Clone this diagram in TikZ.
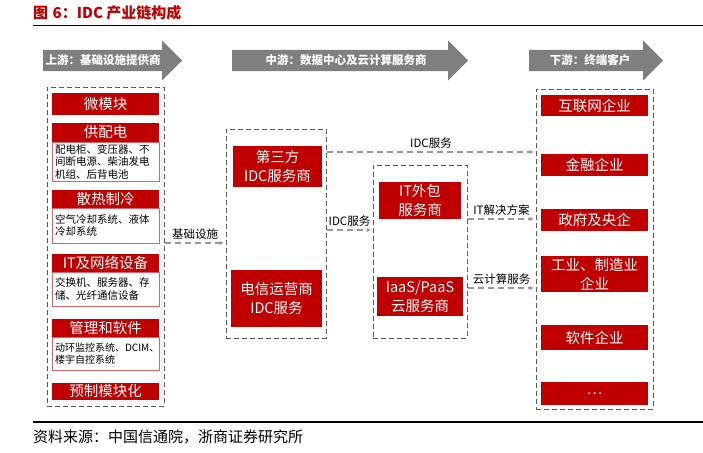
\documentclass[tikz,border=0pt]{standalone}
\usepackage{fontspec}
\setmainfont{Noto Sans CJK SC}
\usepackage{tikz}
\usetikzlibrary{arrows.meta, positioning, calc}
\definecolor{zsred}{HTML}{C00000}
\definecolor{bargray}{HTML}{7F7F7F}
\definecolor{boxgray}{HTML}{595959}
\definecolor{linegray}{HTML}{9A9A9A}

\begin{document}
\begin{tikzpicture}[x=1pt, y=-1pt,
    redbox/.style={fill=zsred, text=white, inner sep=0pt, align=center, font=\fontsize{14.5}{19}\selectfont},
    detailbox/.style={draw=zsred!60, fill=white, text=black, inner xsep=3pt, inner ysep=0pt, text width=101pt, align=left, font=\fontsize{10.5}{12.5}\selectfont},
    group/.style={draw=boxgray, line width=1pt, dash pattern=on 5pt off 3pt},
    flow/.style={draw=linegray, line width=1.2pt, dash pattern=on 6pt off 4pt, shorten >=2pt, -{Triangle[length=4pt,width=4pt]}},
    flowlabel/.style={font=\fontsize{11.5}{14}\selectfont, text=black, inner sep=3pt},
    stage/.style={font=\bfseries\fontsize{11.5}{14}\selectfont, text=white, inner sep=0pt}
]
\useasboundingbox (0,0) rectangle (703,452);

% title and rules
\node[anchor=west, inner sep=0pt, text=zsred, font=\bfseries\fontsize{15}{18}\selectfont] (title) at (33,13) {图\hspace{0.3em}6：IDC 产业链构成};
\draw[line width=1.2pt] (33,25.5) -- (703,25.5);
\draw[line width=1.2pt] (33,422) -- (703,422);
\node[anchor=west, inner sep=0pt, font=\fontsize{15}{18}\selectfont] (source) at (33,437) {资料来源：中国信通院，浙商证券研究所};

% stage banners
\foreach \xa/\xb/\xt/\name/\txt in {43/162/103/upstream/上游：基础设施提供商,
                                   232/448/346/midstream/中游：数据中心及云计算服务商,
                                   529/643/590/downstream/下游：终端客户} {
    \fill[bargray] (\xa,50) -- (\xb,50) -- (\xb,40.5) -- (\xb+20,60.5) -- (\xb,80.5) -- (\xb,71) -- (\xa,71) -- cycle;
    \node[stage] (\name) at (\xt,60.5) {\txt};
}

% group boxes
\node[group, minimum width=117pt, minimum height=319pt] (upbox) at (105.5,246.5) {};
\node[group, minimum width=100pt, minimum height=209pt] (midbox1) at (276,233.5) {};
\node[group, minimum width=94pt, minimum height=173pt] (midbox2) at (420,251.5) {};
\node[group, minimum width=117pt, minimum height=320pt] (custbox) at (594.5,249) {};

% upstream
\node[redbox, minimum width=107pt, minimum height=22pt] (micro) at (105.5,104) {微模块};
\node[redbox, minimum width=107pt, minimum height=19pt] (power) at (105.5,132.5) {供配电};
\node[detailbox, minimum height=39pt] (powertxt) at (105.5,161.5) {配电柜、变压器、不\\间断电源、柴油发电\\机组、后背电池};
\node[redbox, minimum width=107pt, minimum height=18pt] (cool) at (105.5,199) {散热制冷};
\node[detailbox, minimum height=35pt] (cooltxt) at (105.5,225.5) {空气冷却系统、液体\\冷却系统};
\node[redbox, minimum width=107pt, minimum height=18pt] (itnet) at (105.5,263) {IT及网络设备};
\node[detailbox, minimum height=34pt] (itnettxt) at (105.5,289) {交换机、服务器、存\\储、光纤通信设备};
\node[redbox, minimum width=107pt, minimum height=18pt] (mgmt) at (105.5,328) {管理和软件};
\node[detailbox, minimum height=33pt, font=\fontsize{10}{12.5}\selectfont] (mgmttxt) at (105.5,353.5) {动环监控系统、DCIM、\\楼宇自控系统};
\node[redbox, minimum width=107pt, minimum height=17pt] (prefab) at (105.5,391) {预制模块化};

% midstream
\node[redbox, minimum width=89pt, minimum height=41pt] (thirdidc) at (277.5,166.5) {第三方\\IDC服务商};
\node[redbox, minimum width=91pt, minimum height=57pt] (telecom) at (276.5,298.5) {电信运营商\\IDC服务};
\node[redbox, minimum width=82pt, minimum height=37pt] (itout) at (420,200.5) {IT外包\\服务商};
\node[redbox, minimum width=86pt, minimum height=39pt] (cloud) at (420,296.5) {IaaS/PaaS\\云服务商};

% downstream
\foreach \yc/\h/\name/\txt in {105.5/21/internet/互联网企业, 165/22/finance/金融企业,
                               220/22/gov/政府及央企, 274/36/industry/{工业、制造业\\企业},
                               337.5/25/software/软件企业, 393.5/23/others/{\ldots}} {
    \node[redbox, minimum width=107pt, minimum height=\h pt] (\name) at (594.5,\yc) {\txt};
}

% flows
\draw[flow] (upbox.east |- 0,243) -- (midbox1.west |- 0,243) node[flowlabel, midway, above] {基础设施};
\draw[flow] (midbox1.east |- 0,230) -- (midbox2.west |- 0,230) node[flowlabel, midway, above] {IDC服务};
\draw[flow] (midbox1.east |- 0,152) -- (custbox.west |- 0,152) node[flowlabel, midway, above] {IDC服务};
\draw[flow] (midbox2.east |- 0,219) -- (custbox.west |- 0,219) node[flowlabel, midway, above] {IT解决方案};
\draw[flow] (midbox2.east |- 0,288) -- (custbox.west |- 0,288) node[flowlabel, midway, above] {云计算服务};
\end{tikzpicture}
\end{document}
